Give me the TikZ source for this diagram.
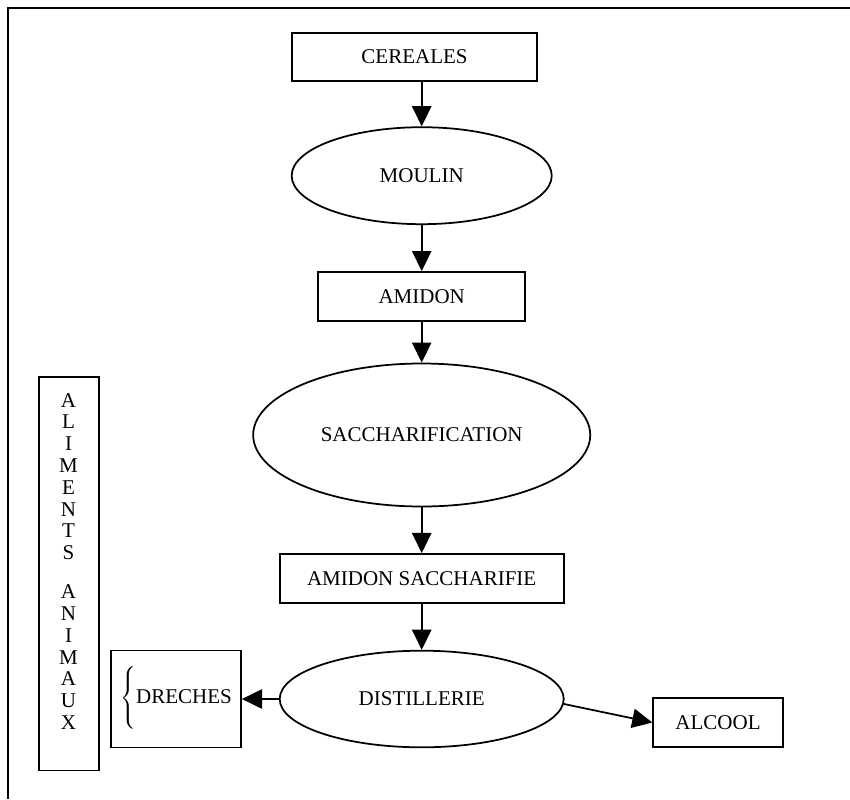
\documentclass[tikz,border=0pt]{standalone}
\usepackage{fontspec}
\setmainfont{Liberation Serif}
\usetikzlibrary{shapes.geometric,arrows.meta}
\begin{document}
\begin{tikzpicture}%
	[x=0.5714pt, y=-0.5714pt,
	every node/.style={font=\fontsize{12}{14}\selectfont},
	frame/.style={line width=1pt},
	box/.style={draw=black, line width=1pt, rectangle, inner sep=0pt},
	oval/.style={draw=black, line width=1pt, ellipse, inner sep=0pt},
	flow/.style={line width=1pt, -{Triangle[length=11.5pt,width=11pt]}},
	letters/.style={align=center, inner sep=0pt, font=\fontsize{12}{12.46}\selectfont}]
	\useasboundingbox (0,0) rectangle (850,799);
	%frame
	\draw[frame] (850,8) -- (8,8) -- (8,799);

	%main chain
	\node[box, minimum width=140pt, minimum height=27.4pt] (cereales) at (414.5,57) {CEREALES};
	\node[oval, minimum width=148.6pt, minimum height=55.4pt] (moulin) at (421.7,175.7) {MOULIN};
	\node[box, minimum width=118.3pt, minimum height=28pt] (amidon) at (421.7,296.5) {AMIDON};
	\node[oval, minimum width=192.6pt, minimum height=81.7pt] (saccha) at (421.7,435) {SACCHARIFICATION};
	\node[box, minimum width=162.3pt, minimum height=27.8pt] (amsaccha) at (421.7,578.3) {AMIDON SACCHARIFIE};
	\node[oval, minimum width=162.3pt, minimum height=55.2pt] (distil) at (421.7,699) {DISTILLERIE};
	\node[box, minimum width=74.3pt, minimum height=55.4pt] (dreches) at (176,699)
		{$\left\{\vrule height 16pt depth 16pt width 0pt\right.$\hspace{-1pt}DRECHES};
	\node[box, minimum width=74pt, minimum height=27.7pt] (alcool) at (718,722.5) {ALCOOL};

	%side box
	\node[box, minimum width=34.3pt, minimum height=225pt] (aliments) at (69,573.7) {};
	\node[letters] (alimtxt) at (68.5,561.4)
		{A\\L\\I\\M\\E\\N\\T\\S\\[9.8pt]A\\N\\I\\M\\A\\U\\X};

	%arrows
	\draw[flow] (moulin.north |- cereales.south) -- (moulin.north);
	\draw[flow] (moulin.south) -- (amidon.north);
	\draw[flow] (amidon.south) -- (saccha.north);
	\draw[flow] (saccha.south) -- (amsaccha.north);
	\draw[flow] (amsaccha.south) -- (distil.north);
	\draw[flow] (distil.west) -- (dreches.east);
	\draw[flow] (distil.-2) -- (alcool.west);
\end{tikzpicture}
\end{document}
